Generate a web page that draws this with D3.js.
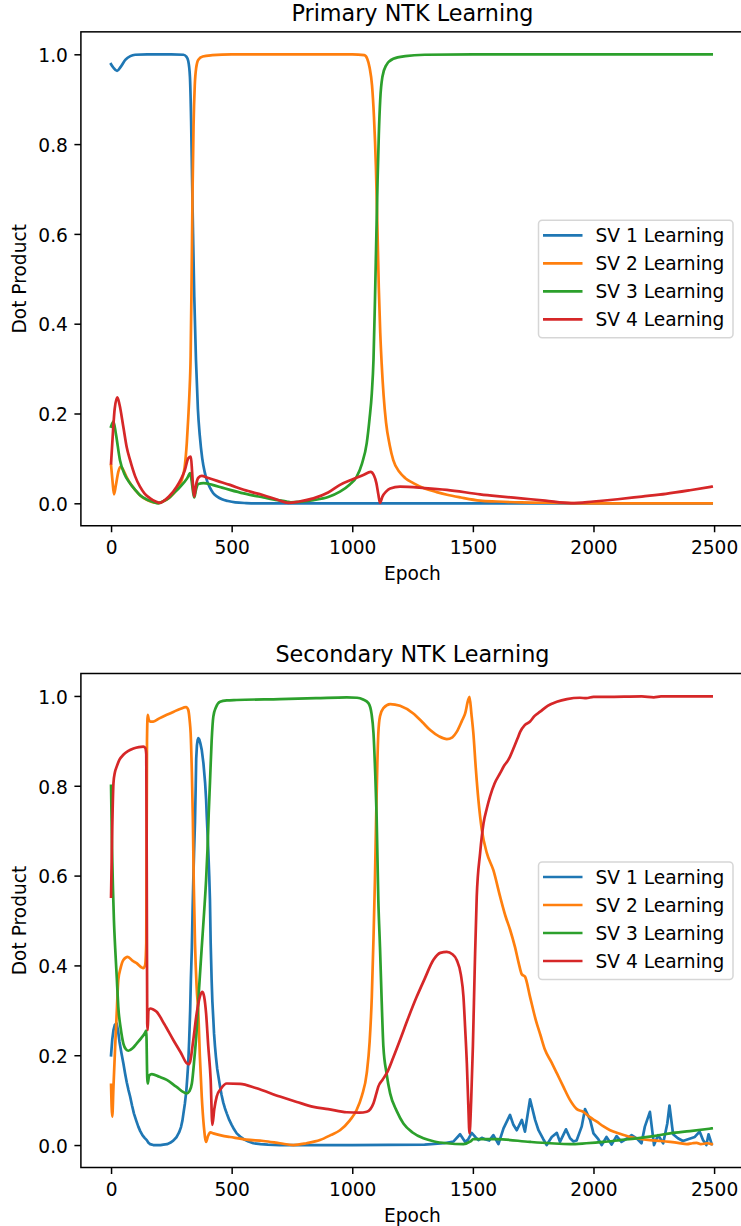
<!DOCTYPE html>
<html>
<head>
<meta charset="utf-8">
<script src="https://cdn.jsdelivr.net/npm/d3@7"></script>
<style>
  body { margin: 0; background: #ffffff; }
  svg { display: block; }
</style>
</head>
<body>
<svg id="chart" width="741" height="1226"></svg>
<script>
// series labels and colours (matplotlib tab10)
var series_names = ["SV 1 Learning", "SV 2 Learning", "SV 3 Learning", "SV 4 Learning"];
var series_colors = ["#1f77b4", "#ff7f0e", "#2ca02c", "#d62728"];
var x_ticks = [0, 500, 1000, 1500, 2000, 2500];
var y_ticks = [0.0, 0.2, 0.4, 0.6, 0.8, 1.0];

// ---- Primary NTK Learning: [epoch, dot product]
var primary_sv1 = [[0,0.978],[10,0.97],[25,0.963],[40,0.972],[60,0.988],[80,0.996],[100,0.999],[150,1.0],[250,1.0],[300,0.999],
  [312,0.995],[320,0.985],[327,0.95],[332,0.85],[336,0.72],[340,0.6],[345,0.46],[352,0.32],[360,0.21],[368,0.15],[378,0.1],
  [388,0.07],[398,0.05],[410,0.035],[423,0.023],[440,0.015],[460,0.009],[485,0.005],[515,0.002],[560,0.0005],[600,0],
  [1500,0],[2490,0]];
var primary_sv2 = [[0,0.085],[6,0.05],[12,0.02],[20,0.04],[30,0.07],[40,0.082],[50,0.075],[65,0.058],[80,0.044],[100,0.03],
  [120,0.018],[150,0.007],[175,0.002],[195,0.001],[215,0.004],[240,0.012],[260,0.022],[280,0.037],[295,0.055],[305,0.08],
  [314,0.134],[320,0.19],[325,0.245],[330,0.33],[334,0.5],[338,0.7],[342,0.84],[347,0.93],[353,0.97],[362,0.988],[380,0.995],
  [420,0.998],[500,1.0],[1000,1.0],[1050,0.998],[1062,0.99],[1072,0.97],[1082,0.93],[1090,0.86],[1098,0.75],[1104,0.62],
  [1110,0.48],[1116,0.38],[1122,0.31],[1130,0.24],[1140,0.18],[1155,0.13],[1170,0.096],[1195,0.07],[1220,0.056],[1253,0.045],
  [1300,0.033],[1350,0.025],[1393,0.019],[1450,0.013],[1530,0.006],[1600,0.004],[1700,0.002],[1850,0.001],[2000,0],[2490,0]];
var primary_sv3 = [[0,0.171],[10,0.182],[20,0.155],[37,0.096],[55,0.066],[79,0.044],[100,0.03],[120,0.018],[150,0.008],
  [175,0.003],[196,0.0],[215,0.004],[240,0.012],[258,0.022],[280,0.033],[300,0.045],[315,0.055],[328,0.067],[334,0.05],
  [340,0.025],[345,0.013],[352,0.03],[362,0.043],[383,0.045],[420,0.041],[460,0.035],[493,0.03],[550,0.022],[632,0.013],
  [690,0.007],[728,0.004],[745,0.002],[780,0.003],[839,0.007],[900,0.014],[949,0.026],[990,0.042],[1018,0.059],[1040,0.088],
  [1060,0.134],[1072,0.19],[1081,0.245],[1088,0.32],[1094,0.45],[1100,0.6],[1105,0.72],[1110,0.82],[1116,0.9],[1125,0.95],
  [1140,0.975],[1170,0.99],[1220,0.996],[1300,0.999],[1500,1.0],[2490,1.0]];
var primary_sv4 = [[0,0.089],[8,0.16],[15,0.21],[26,0.236],[35,0.22],[51,0.17],[65,0.125],[79,0.096],[100,0.06],[120,0.037],
  [140,0.021],[162,0.011],[185,0.004],[203,0.001],[220,0.006],[240,0.015],[272,0.037],[290,0.054],[306,0.074],[320,0.1],
  [331,0.104],[336,0.07],[341,0.03],[345,0.015],[352,0.04],[362,0.057],[376,0.061],[400,0.057],[440,0.05],[493,0.041],
  [550,0.03],[632,0.018],[690,0.008],[735,0.001],[780,0.004],[839,0.011],[900,0.024],[949,0.041],[1000,0.053],[1046,0.063],
  [1076,0.07],[1090,0.062],[1100,0.045],[1108,0.02],[1115,0.001],[1125,0.015],[1140,0.026],[1157,0.033],[1198,0.037],
  [1300,0.034],[1392,0.03],[1530,0.02],[1600,0.016],[1700,0.011],[1800,0.006],[1907,0.0005],[2000,0.004],[2100,0.009],
  [2200,0.015],[2300,0.021],[2400,0.029],[2490,0.037]];

// ---- Secondary NTK Learning
var secondary_sv1 = [[0,0.2],[5,0.235],[10,0.256],[16,0.268],[23,0.271],[29,0.255],[35,0.23],[43,0.205],[51,0.182],[58,0.16],
  [65,0.14],[72,0.123],[79,0.108],[87,0.088],[95,0.07],[104,0.055],[113,0.041],[121,0.031],[130,0.022],[139,0.016],
  [148,0.011],[155,0.005],[162,0.002],[175,0.0],[190,0.0],[205,0.0],[217,0.001],[232,0.002],[245,0.005],[258,0.01],
  [272,0.018],[282,0.028],[290,0.04],[296,0.055],[300,0.07],[306,0.092],[312,0.12],[316,0.15],[320,0.182],[324,0.235],
  [328,0.3],[331,0.37],[335,0.44],[338,0.52],[341,0.59],[344,0.65],[348,0.72],[351,0.8],[353,0.86],[356,0.89],[359,0.902],
  [362,0.906],[366,0.903],[370,0.895],[376,0.88],[383,0.85],[390,0.806],[394,0.77],[397,0.73],[400,0.695],[403,0.657],
  [407,0.6],[410,0.546],[413,0.45],[417,0.367],[420,0.32],[424,0.28],[427,0.248],[431,0.219],[435,0.195],[440,0.17],
  [446,0.15],[452,0.13],[458,0.112],[465,0.095],[472,0.082],[480,0.07],[490,0.056],[500,0.045],[510,0.035],[521,0.026],
  [535,0.019],[550,0.013],[570,0.008],[590,0.004],[620,0.002],[650,0.001],[700,0],[1000,0],[1300,0.001],[1380,0.004],
  [1420,0.008],[1447,0.024],[1468,0.007],[1480,0.012],[1495,0.027],[1510,0.018],[1523,0.011],[1537,0.016],[1550,0.013],
  [1568,0.01],[1585,0.022],[1606,0.002],[1627,0.037],[1654,0.067],[1668,0.045],[1682,0.033],[1703,0.056],[1716,0.03],
  [1737,0.102],[1758,0.056],[1772,0.033],[1792,0.013],[1806,0.0],[1827,0.018],[1848,0.027],[1861,0.007],[1886,0.035],
  [1903,0.015],[1917,0.008],[1930,0.01],[1951,0.041],[1965,0.08],[1986,0.056],[2000,0.026],[2020,0.013],[2034,0.0],
  [2054,0.018],[2075,0.001],[2096,0.02],[2116,0.007],[2137,0.014],[2158,0.022],[2179,0.015],[2199,0.004],[2213,0.041],
  [2234,0.074],[2251,0.0],[2268,0.022],[2289,0.004],[2306,0.048],[2315,0.088],[2330,0.024],[2350,0.015],[2371,0.009],
  [2392,0.013],[2420,0.018],[2440,0.03],[2454,0.011],[2468,0.0],[2477,0.024],[2490,0.002]];
var secondary_sv2 = [[0,0.134],[5,0.063],[10,0.13],[17,0.219],[24,0.3],[30,0.367],[40,0.395],[51,0.412],[69,0.419],[90,0.41],
  [106,0.405],[125,0.396],[134,0.394],[141,0.4],[146,0.45],[149,0.9],[152,0.958],[156,0.948],[162,0.943],[175,0.943],
  [200,0.95],[231,0.958],[260,0.965],[286,0.971],[311,0.975],[320,0.969],[326,0.945],[330,0.917],[335,0.83],[339,0.731],
  [343,0.58],[348,0.45],[355,0.35],[362,0.293],[368,0.2],[376,0.108],[385,0.04],[394,0.007],[402,0.02],[412,0.028],
  [424,0.026],[460,0.021],[493,0.018],[560,0.012],[632,0.009],[700,0.004],[756,0.0],[810,0.004],[866,0.011],[910,0.022],
  [949,0.033],[990,0.055],[1018,0.078],[1040,0.11],[1060,0.16],[1072,0.23],[1081,0.33],[1088,0.46],[1094,0.59],[1099,0.731],
  [1104,0.85],[1108,0.917],[1115,0.955],[1129,0.973],[1157,0.982],[1198,0.978],[1253,0.961],[1290,0.942],[1323,0.924],
  [1360,0.91],[1392,0.904],[1415,0.908],[1433,0.92],[1455,0.945],[1468,0.961],[1480,0.99],[1486,0.998],[1494,0.96],
  [1502,0.917],[1512,0.84],[1523,0.768],[1537,0.702],[1558,0.65],[1585,0.612],[1613,0.553],[1635,0.51],[1654,0.48],
  [1675,0.44],[1690,0.405],[1703,0.38],[1716,0.375],[1737,0.33],[1760,0.28],[1780,0.245],[1799,0.212],[1825,0.185],
  [1848,0.16],[1875,0.13],[1903,0.1],[1931,0.08],[1958,0.074],[1985,0.062],[2014,0.052],[2040,0.042],[2069,0.033],
  [2110,0.025],[2152,0.018],[2190,0.014],[2234,0.011],[2280,0.009],[2318,0.007],[2350,0.005],[2387,0.002],[2410,0.004],
  [2428,0.005],[2445,0.002],[2470,0.004],[2490,0.002]];
var secondary_sv3 = [[0,0.8],[4,0.66],[8,0.57],[12,0.5],[17,0.44],[24,0.37],[30,0.308],[40,0.26],[51,0.226],[62,0.213],
  [72,0.21],[90,0.216],[106,0.226],[125,0.238],[141,0.25],[146,0.255],[150,0.15],[152,0.137],[158,0.155],[169,0.158],
  [200,0.152],[231,0.145],[270,0.13],[314,0.115],[325,0.12],[335,0.137],[345,0.19],[355,0.256],[365,0.35],[376,0.44],
  [386,0.52],[394,0.59],[400,0.66],[405,0.74],[410,0.806],[417,0.9],[424,0.954],[435,0.975],[452,0.987],[480,0.99],
  [521,0.991],[700,0.993],[850,0.995],[977,0.997],[1020,0.996],[1045,0.992],[1067,0.984],[1080,0.96],[1088,0.917],
  [1095,0.83],[1101,0.731],[1108,0.546],[1115,0.44],[1122,0.32],[1129,0.219],[1142,0.16],[1157,0.115],[1185,0.075],
  [1212,0.048],[1250,0.028],[1295,0.015],[1340,0.008],[1392,0.004],[1461,0.002],[1490,0.008],[1502,0.013],[1599,0.013],
  [1737,0.007],[1820,0.004],[1903,0.002],[1970,0.004],[2041,0.007],[2110,0.011],[2179,0.015],[2250,0.02],[2318,0.026],
  [2400,0.031],[2490,0.037]];
var secondary_sv4 = [[0,0.553],[4,0.68],[10,0.806],[16,0.83],[23,0.842],[35,0.858],[51,0.869],[70,0.877],[93,0.883],
  [115,0.886],[134,0.887],[142,0.884],[146,0.87],[148,0.6],[150,0.27],[152,0.256],[155,0.3],[162,0.304],[175,0.302],
  [189,0.297],[220,0.27],[258,0.234],[290,0.205],[314,0.182],[322,0.18],[328,0.186],[340,0.23],[355,0.293],[368,0.33],
  [379,0.341],[386,0.33],[394,0.293],[403,0.22],[413,0.145],[420,0.045],[428,0.08],[438,0.108],[455,0.125],[480,0.137],
  [535,0.136],[600,0.127],[700,0.108],[770,0.096],[839,0.085],[900,0.08],[977,0.073],[1030,0.072],[1060,0.074],[1075,0.08],
  [1088,0.093],[1100,0.115],[1108,0.13],[1125,0.145],[1143,0.16],[1170,0.195],[1198,0.234],[1230,0.28],[1267,0.33],
  [1300,0.37],[1336,0.412],[1365,0.428],[1392,0.43],[1415,0.425],[1433,0.412],[1450,0.38],[1461,0.33],[1468,0.26],
  [1475,0.182],[1481,0.09],[1486,0.026],[1493,0.1],[1500,0.219],[1508,0.4],[1516,0.553],[1530,0.65],[1544,0.716],
  [1558,0.75],[1571,0.776],[1590,0.805],[1613,0.828],[1630,0.845],[1645,0.856],[1654,0.865],[1670,0.885],[1685,0.905],
  [1696,0.92],[1715,0.935],[1737,0.943],[1755,0.955],[1779,0.965],[1810,0.978],[1848,0.987],[1890,0.993],[1944,0.996],
  [1970,0.995],[2000,0.998],[2055,0.998],[2200,0.999],[2250,0.997],[2280,0.999],[2400,0.999],[2490,0.999]];

var panels = [
    { title: "Primary NTK Learning", top: 31.85, bottom: 525.75,
      series: [primary_sv1, primary_sv2, primary_sv3, primary_sv4],
      jagged: [false, false, false, false] },
    { title: "Secondary NTK Learning", top: 673.5, bottom: 1167.5,
      series: [secondary_sv1, secondary_sv2, secondary_sv3, secondary_sv4],
      jagged: [true, false, false, false] }
];

var options = {
    left: 80.9,
    right: 744,
    font: "DejaVu Sans, sans-serif",
    tick_font: 18.6,
    title_font: 22.3,
    line_width: 2.7,
    spine_width: 1.5,
    tick_len: 6.5
};

var svg = d3.select("#chart");

var render_panel = function(panel, options) {
    var x = d3.scaleLinear().domain([-125, 2624]).range([options.left, options.right]);
    var y = d3.scaleLinear().domain([-0.05, 1.05]).range([panel.bottom, panel.top]);
    var g = svg.append("g");

    var smooth = d3.line()
        .x(function(d) { return x(d[0]); })
        .y(function(d) { return y(d[1]); })
        .curve(d3.curveMonotoneX);
    var straight = d3.line()
        .x(function(d) { return x(d[0]); })
        .y(function(d) { return y(d[1]); });

    g.selectAll(".series")
        .data(panel.series)
        .enter()
        .append("path")
        .attr("class", "series")
        .attr("d", function(d, i) { return panel.jagged[i] ? straight(d) : smooth(d); })
        .attr("fill", "none")
        .attr("stroke", function(d, i) { return series_colors[i]; })
        .attr("stroke-width", options.line_width)
        .attr("stroke-linejoin", "round")
        .attr("stroke-linecap", "square");

    // frame (the right spine sits just past the picture edge)
    g.append("rect")
        .attr("x", options.left)
        .attr("y", panel.top)
        .attr("width", options.right - options.left)
        .attr("height", panel.bottom - panel.top)
        .attr("fill", "none")
        .attr("stroke", "#000")
        .attr("stroke-width", options.spine_width);

    var x_axis = g.append("g")
        .attr("transform", "translate(0," + panel.bottom + ")")
        .call(d3.axisBottom(x).tickValues(x_ticks).tickSize(options.tick_len).tickSizeOuter(0).tickFormat(d3.format("d")));
    var y_axis = g.append("g")
        .attr("transform", "translate(" + options.left + ",0)")
        .call(d3.axisLeft(y).tickValues(y_ticks).tickSize(options.tick_len).tickPadding(6.5).tickSizeOuter(0).tickFormat(d3.format(".1f")));

    [x_axis, y_axis].forEach(function(ax) {
        ax.select(".domain").remove();
        ax.selectAll(".tick line").attr("stroke", "#000").attr("stroke-width", options.spine_width);
        ax.selectAll(".tick text")
            .attr("fill", "#000")
            .style("font-family", options.font)
            .style("font-size", options.tick_font + "px");
    });
    x_axis.selectAll(".tick text").attr("dy", null).attr("y", 28.3);
    y_axis.selectAll(".tick text").attr("dy", "0.39em");

    var cx = (options.left + options.right) / 2;
    g.append("text")
        .attr("x", cx)
        .attr("y", panel.top - 11.1)
        .attr("text-anchor", "middle")
        .style("font-family", options.font)
        .style("font-size", options.title_font + "px")
        .text(panel.title);

    g.append("text")
        .attr("x", cx)
        .attr("y", panel.bottom + 54.3)
        .attr("text-anchor", "middle")
        .style("font-family", options.font)
        .style("font-size", options.tick_font + "px")
        .text("Epoch");

    g.append("text")
        .attr("transform", "translate(26," + ((panel.top + panel.bottom) / 2) + ") rotate(-90)")
        .attr("text-anchor", "middle")
        .style("font-family", options.font)
        .style("font-size", options.tick_font + "px")
        .text("Dot Product");

    // legend, center right
    var mid = (panel.top + panel.bottom) / 2;
    var legend = g.append("g").attr("transform", "translate(538," + (mid - 59) + ")");
    legend.append("rect")
        .attr("x", 0.5).attr("y", 0.5)
        .attr("width", 194.5).attr("height", 117.5)
        .attr("rx", 3.7)
        .attr("fill", "#fff").attr("fill-opacity", 0.8)
        .attr("stroke", "#cccccc").attr("stroke-opacity", 0.8)
        .attr("stroke-width", 1.5);
    var rows = legend.selectAll(".entry")
        .data(series_names)
        .enter()
        .append("g")
        .attr("class", "entry")
        .attr("transform", function(d, i) { return "translate(0," + (15.5 + i * 28) + ")"; });
    rows.append("line")
        .attr("x1", 5).attr("x2", 44.5)
        .attr("stroke", function(d, i) { return series_colors[i]; })
        .attr("stroke-width", options.line_width);
    rows.append("text")
        .attr("x", 57.5)
        .attr("dy", "0.37em")
        .style("font-family", options.font)
        .style("font-size", options.tick_font + "px")
        .text(function(d) { return d; });
};

panels.forEach(function(p) { render_panel(p, options); });
</script>
</body>
</html>
